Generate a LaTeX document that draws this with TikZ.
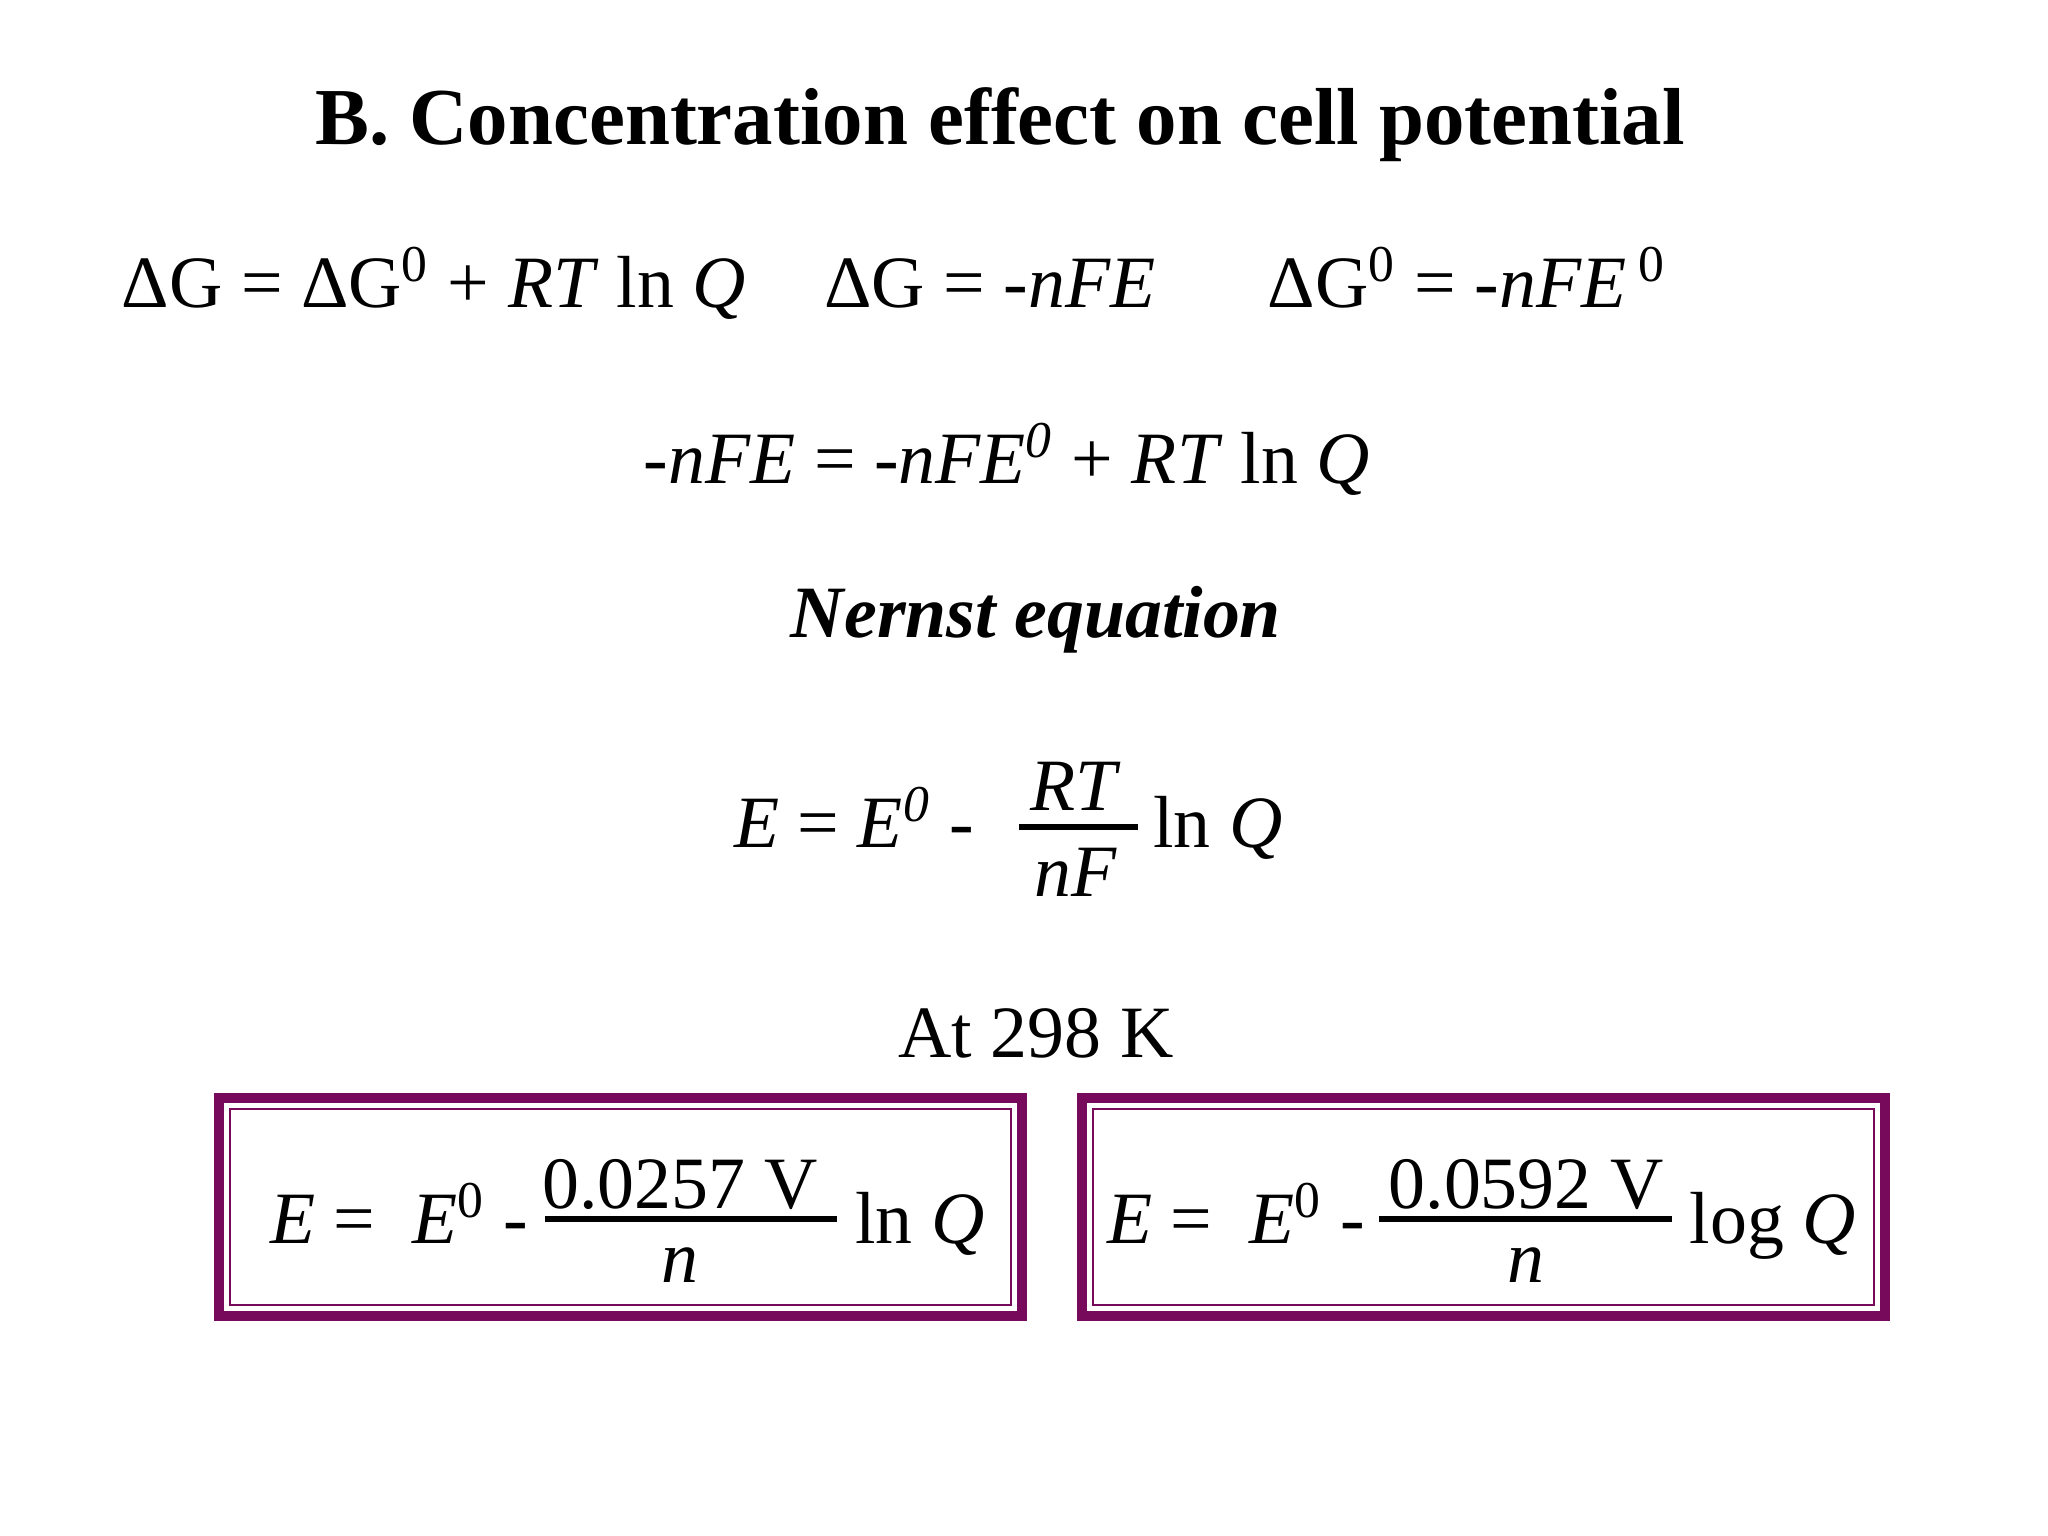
\documentclass[tikz,border=0pt]{standalone}
\usepackage{fontspec}
\setmainfont{Liberation Serif}
\definecolor{boxpurple}{HTML}{780A5C}
\begin{document}
\begin{tikzpicture}[x=1cm,y=1cm,
  txt/.style={inner sep=0pt,anchor=base,font=\fontsize{21}{24}\selectfont},
  bar/.style={line width=1.6pt},
  obox/.style={draw=boxpurple,line width=2.6pt},
  ibox/.style={draw=boxpurple,line width=0.6pt}]
\useasboundingbox (0,0) rectangle (20.48,15.36);
\node[inner sep=0pt,font=\fontsize{23}{26}\selectfont\bfseries] (title) at (10.0,14.11) {B. Concentration effect on cell potential};
\node[txt] (eq1) at (4.34,12.28) {ΔG = ΔG\textsuperscript{0} + \textit{RT} ln \textit{Q}};
\node[txt] (eq2) at (9.9,12.28) {ΔG = -\textit{nFE}};
\node[txt] (eq3) at (14.67,12.28) {ΔG\textsuperscript{0} = -\textit{nFE}\,\textsuperscript{0}};
\node[txt] (eq4) at (10.07,10.52) {-\textit{nFE} = -\textit{nFE\textsuperscript{0}} + \textit{RT} ln \textit{Q}};
\node[txt,font=\fontsize{21}{24}\selectfont\bfseries\itshape] (nernst) at (10.36,8.98) {Nernst equation};
% Nernst formula
\node[txt] (n1) at (8.54,6.88) {\textit{E} = \textit{E\textsuperscript{0}} -};
\coordinate (nb1) at (10.19,7.09); \coordinate (nb2) at (11.38,7.09);
\draw[bar] (nb1) -- (nb2);
\node[txt] (nnum) at (10.76,7.25) {\textit{RT}};
\node[txt] (nden) at (10.76,6.39) {\textit{nF}};
\node[txt] (nln) at (12.18,6.88) {ln \textit{Q}};
\node[txt] (at) at (10.36,4.78) {At 298 K};
% boxes
\draw[obox] (2.19,2.20) rectangle (10.22,4.38);
\draw[ibox] (2.30,2.31) rectangle (10.11,4.27);
\draw[obox] (10.82,2.20) rectangle (18.85,4.38);
\draw[ibox] (10.93,2.31) rectangle (18.74,4.27);
\node[txt] (l1) at (3.99,2.92) {\textit{E} = \ \textit{E}\textsuperscript{0} -};
\coordinate (lb1) at (5.45,3.17); \coordinate (lb2) at (8.37,3.17);
\draw[bar] (lb1) -- (lb2);
\node[txt] (lnum) at (6.80,3.27) {0.0257 V};
\node[txt] (lden) at (6.80,2.53) {\textit{n}};
\node[txt] (lln) at (9.20,2.92) {ln \textit{Q}};
\node[txt] (r1) at (12.36,2.92) {\textit{E} = \ \textit{E}\textsuperscript{0} -};
\coordinate (rb1) at (13.79,3.17); \coordinate (rb2) at (16.72,3.17);
\draw[bar] (rb1) -- (rb2);
\node[txt] (rnum) at (15.26,3.27) {0.0592 V};
\node[txt] (rden) at (15.26,2.53) {\textit{n}};
\node[txt] (rlog) at (17.73,2.92) {log \textit{Q}};
\end{tikzpicture}
\end{document}
